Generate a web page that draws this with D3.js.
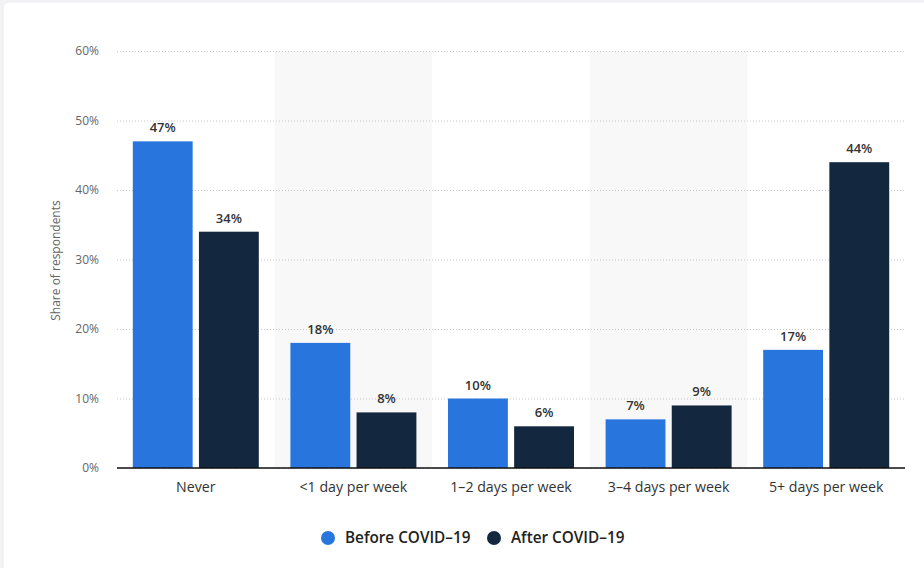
<!DOCTYPE html>
<html><head><meta charset="utf-8">
<script src="https://cdn.jsdelivr.net/npm/d3@7"></script>
<style>
html,body{margin:0;padding:0;background:#f3f3f5;}
svg{display:block;font-family:"Open Sans","Noto Sans",sans-serif;}
</style></head>
<body>
<svg id="c" width="924" height="568"></svg>
<script>
const categories = ["Never", "<1 day per week", "1-2 days per week", "3-4 days per week", "5+ days per week"];
const seriesNames = ["Before COVID-19", "After COVID-19"];
const before = [47, 18, 10, 7, 17];
const after = [34, 8, 6, 9, 44];
const yTicks = [0, 10, 20, 30, 40, 50, 60];
const colors = ["#2876dd", "#13273f"];

(function () {
const svg = d3.select("#c");
// card
svg.append("rect").attr("x", 3).attr("y", 2).attr("width", 940).attr("height", 580).attr("rx", 6)
  .attr("fill", "#fff").attr("stroke", "#ececf0");

const pL = 117, pR = 905, pT = 51, pB = 468;
const x = d3.scaleBand().domain(categories).range([pL, pR]).paddingInner(0).paddingOuter(0);
const y = d3.scaleLinear().domain([0, 60]).range([pB, pT]);
const bw = x.bandwidth();
const inner = d3.scaleBand().domain(seriesNames).range([(bw - 126) / 2, (bw + 126) / 2]).paddingInner(6 / 63);

// alternating shading
svg.append("g").selectAll("rect").data(categories.filter((d, i) => i % 2 === 1)).join("rect")
  .attr("x", d => x(d)).attr("y", pT).attr("width", bw).attr("height", pB - pT)
  .attr("fill", "#f8f8f8");

// grid
const yAxis = d3.axisLeft(y).tickValues(yTicks).tickSize(-(pR - pL)).tickFormat(d => d + "%").tickPadding(18);
const ga = svg.append("g").attr("transform", `translate(${pL},0)`).call(yAxis);
ga.select(".domain").remove();
ga.selectAll(".tick line").attr("stroke", "#c8c8c8").attr("stroke-dasharray", "1,2");
ga.selectAll(".tick text").attr("fill", "#666").attr("font-size", 12).attr("font-family", "'Open Sans',sans-serif");

// y title
svg.append("text").attr("transform", `translate(60,${(pT + pB) / 2 + 1}) rotate(-90)`)
  .attr("text-anchor", "middle").attr("font-size", 12).attr("fill", "#666").text("Share of respondents");

// bars
const data = [];
categories.forEach((c, i) => {
  data.push({ c, s: seriesNames[0], v: before[i], col: colors[0] });
  data.push({ c, s: seriesNames[1], v: after[i], col: colors[1] });
});
const bx = d => x(d.c) + inner(d.s);
svg.append("g").selectAll("rect").data(data).join("rect")
  .attr("x", bx).attr("y", d => y(d.v)).attr("width", inner.bandwidth())
  .attr("height", d => pB - y(d.v)).attr("fill", d => d.col);

svg.append("g").selectAll("text").data(data).join("text")
  .attr("x", d => bx(d) + inner.bandwidth() / 2).attr("y", d => y(d.v) - 9)
  .attr("text-anchor", "middle").attr("font-size", 13).attr("font-weight", 600).attr("fill", "#333")
  .text(d => d.v + "%");

// baseline
svg.append("line").attr("x1", pL).attr("x2", pR).attr("y1", pB).attr("y2", pB)
  .attr("stroke", "#111").attr("stroke-width", 1.5);

// x labels
const xAxis = d3.axisBottom(x).tickSize(0).tickPadding(14);
const gx = svg.append("g").attr("transform", `translate(0,${pB})`).call(xAxis);
gx.select(".domain").remove();
gx.selectAll(".tick text").attr("fill", "#333").attr("font-size", 14.2).attr("font-family", "'Open Sans',sans-serif")
  .text(d => d.replace("-", "\u2013"));

// legend
const legX = [328, 494];
const lg = svg.append("g").selectAll("g").data(seriesNames).join("g")
  .attr("transform", (d, i) => `translate(${legX[i]},538)`);
lg.append("circle").attr("r", 7).attr("fill", (d, i) => colors[i]);
lg.append("text").attr("x", 17).attr("dy", "0.35em").attr("font-size", 15.3).attr("font-weight", 600)
  .attr("fill", "#222").text(d => d.replace("-", "\u2013"));
})();
</script>
</body></html>
